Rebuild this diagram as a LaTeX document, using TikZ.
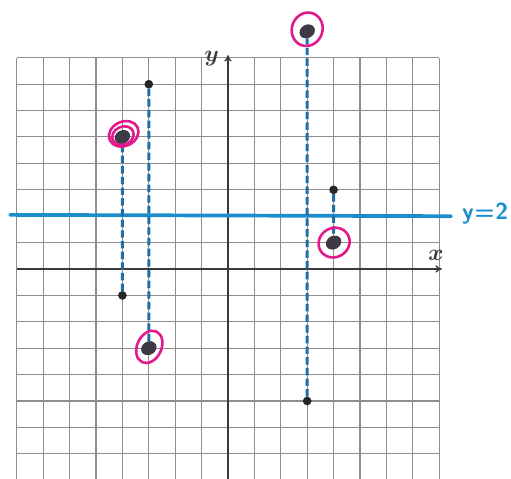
\documentclass[tikz,border=0pt]{standalone}
\usepackage{fontspec}
\usetikzlibrary{arrows.meta,calc,shapes.geometric}
\definecolor{gridgray}{HTML}{8E8E8E}
\definecolor{axisdark}{HTML}{3A3A3A}
\definecolor{lineblue}{HTML}{1C8DCC}
\definecolor{dashblue}{HTML}{1F6FA3}
\definecolor{ringpink}{HTML}{E2198C}
\definecolor{dotdark}{HTML}{262626}
\definecolor{bigdotdark}{HTML}{3D3A45}
\tikzset{
  gridline/.style={draw=gridgray, line width=1.1pt},
  axisline/.style={draw=axisdark, line width=1.6pt, -{To[length=7pt,width=8pt]}},
  mirrorline/.style={draw=lineblue, line width=4pt, line cap=round},
  dashline/.style={draw=dashblue, line width=3.2pt, dash pattern=on 8pt off 3.5pt},
  smalldot/.style={circle, fill=dotdark, inner sep=0pt, minimum size=9pt},
  bigdot/.style={ellipse, fill=bigdotdark, inner sep=0pt, minimum width=17pt, minimum height=14pt, rotate=30},
  ring/.style={draw=ringpink, line width=2.8pt},
  axlabel/.style={font=\fontsize{28}{28}\selectfont\boldmath, text=axisdark, inner sep=0pt},
  eqlabel/.style={font=\sffamily\bfseries\fontsize{25}{25}\selectfont, text=lineblue}
}
\begin{document}
\begin{tikzpicture}[x=1cm,y=1cm]
\useasboundingbox (-8.636,-7.917) rectangle (10.72,10.189);
\clip (-8.636,-7.917) rectangle (10.72,10.189);
% grid
\draw[gridline] (-8,-8) grid (8,8);
% axes
\coordinate (xl) at (-8,0);
\coordinate (xr) at (8.1,0);
\coordinate (yb) at (0,-8);
\coordinate (yt) at (0,8.1);
\draw[axisline] (xl) -- (xr);
\draw[axisline] (yb) -- (yt);
\node[axlabel] (xlab) at (7.88,0.52) {$x$};
\node[axlabel] (ylab) at (-0.62,7.95) {$y$};
% mirror line y=2
\coordinate (ml) at (-8.25,2.05);
\coordinate (mr) at (8.45,2.0);
\draw[mirrorline] (ml) -- (mr);
\node[eqlabel, anchor=west, inner sep=0pt] (eq) at (8.86,2.1) {y\kern1pt=\kern1pt2};
% original points
\node[smalldot] (a) at (-4,-1) {};
\node[smalldot] (b) at (-3,7) {};
\node[smalldot] (c) at (3,-5) {};
\node[smalldot] (d) at (4,3) {};
% reflected points
\node[bigdot] (ar) at (-4,5) {};
\node[bigdot] (br) at (-3,-3) {};
\node[bigdot] (cr) at (3,9) {};
\node[bigdot] (dr) at (4,1) {};
% dashed connectors
\draw[dashline] (a) -- (ar);
\draw[dashline] (b) -- (br);
\draw[dashline] (c) -- (cr);
\draw[dashline] (d) -- (dr);
% redraw dots over the lines
\node[smalldot] at (a) {};
\node[smalldot] at (b) {};
\node[smalldot] at (c) {};
\node[smalldot] at (d) {};
\node[bigdot] at (ar) {};
\node[bigdot] at (br) {};
\node[bigdot] at (cr) {};
\node[bigdot] at (dr) {};
% pink rings
\draw[ring] ($(ar)+(0.05,0.12)$) ellipse [x radius=0.58, y radius=0.46, rotate=25];
\draw[ring] ($(ar)+(0.02,0.05)$) ellipse [x radius=0.42, y radius=0.34, rotate=25];
\draw[ring] ($(br)+(0.02,0.05)$) ellipse [x radius=0.64, y radius=0.46, rotate=65];
\draw[ring] ($(cr)+(0.0,0.08)$) ellipse [x radius=0.64, y radius=0.58, rotate=70];
\draw[ring] ($(dr)+(0.02,0.0)$) ellipse [x radius=0.6, y radius=0.55, rotate=30];
\end{tikzpicture}
\end{document}
